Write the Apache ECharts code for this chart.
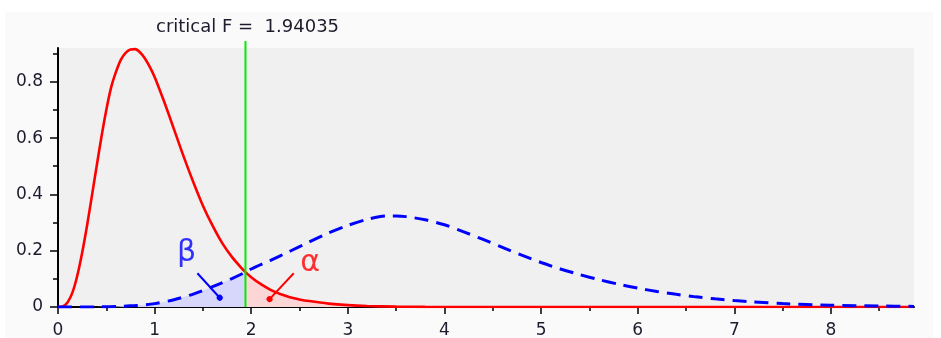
<!DOCTYPE html>
<html><head><meta charset="utf-8">
<script src="https://cdn.jsdelivr.net/npm/echarts@6/dist/echarts.min.js"></script>
<style>html,body{margin:0;padding:0;background:#fff}#c{width:941px;height:338px}</style>
</head><body><div id="c"></div>
<script>
// ---- data ----
const criticalF = 1.94035;
const xMax = 8.86;
const yMax = 0.92;
const xTicks = [0, 1, 2, 3, 4, 5, 6, 7, 8];
const xMinorTicks = [0.5, 1.5, 2.5, 3.5, 4.5, 5.5, 6.5, 7.5, 8.5];
const yTicks = [0, 0.2, 0.4, 0.6, 0.8];
const yMinorTicks = [0.1, 0.3, 0.5, 0.7, 0.9];

// central F density (red)
const redX = [0, 0.05, 0.1, 0.15, 0.2, 0.25, 0.3, 0.35, 0.4, 0.45, 0.5, 0.55, 0.6, 0.65, 0.7, 0.75, 0.8, 0.85, 0.9, 0.95, 1.0, 1.1, 1.2, 1.3, 1.4, 1.5, 1.6, 1.7, 1.8, 1.9, 1.94035, 2.0, 2.1, 2.2, 2.3, 2.4, 2.5, 2.6, 2.8, 3.0, 3.2, 3.5, 3.8, 4.2, 5, 6, 7, 8, 8.86];
const redY = [0, 0.002, 0.017, 0.052, 0.112, 0.193, 0.288, 0.393, 0.5, 0.605, 0.7, 0.78, 0.835, 0.878, 0.903, 0.915, 0.916, 0.904, 0.883, 0.853, 0.817, 0.728, 0.632, 0.535, 0.444, 0.36, 0.289, 0.227, 0.178, 0.138, 0.124, 0.106, 0.081, 0.061, 0.046, 0.035, 0.027, 0.021, 0.012, 0.0065, 0.0035, 0.0014, 0.0005, 0.0001, 0, 0, 0, 0, 0];

// noncentral F density (blue dashed)
const blueX = [0, 0.4, 0.6, 0.8, 1.0, 1.2, 1.4, 1.6, 1.8, 1.94035, 2.0, 2.2, 2.4, 2.6, 2.8, 3.0, 3.2, 3.4, 3.5, 3.6, 3.8, 4.0, 4.2, 4.4, 4.6, 4.8, 5.0, 5.2, 5.4, 5.6, 5.8, 6.0, 6.2, 6.4, 6.6, 6.8, 7.0, 7.2, 7.5, 8.0, 8.5, 8.86];
const blueY = [0, 0.0003, 0.0015, 0.005, 0.012, 0.026, 0.046, 0.072, 0.101, 0.124, 0.135, 0.166, 0.198, 0.231, 0.263, 0.290, 0.311, 0.323, 0.323, 0.321, 0.310, 0.292, 0.267, 0.240, 0.212, 0.184, 0.158, 0.135, 0.115, 0.097, 0.081, 0.067, 0.055, 0.045, 0.036, 0.029, 0.023, 0.018, 0.012, 0.0065, 0.0035, 0.0022];

// annotations (data coordinates)
const betaText = 'β';
const alphaText = 'α';
const betaLabelAt = [1.33, 0.19];
const alphaLabelAt = [2.61, 0.155];
const betaPointer = [[1.443, 0.12], [1.674, 0.033]];
const alphaPointer = [[2.44, 0.12], [2.19, 0.028]];
const greenTop = 0.945;

// ---- build ----
const pairs = (xs, ys) => xs.map((x, i) => [x, ys[i]]);
const redData = pairs(redX, redY);
const blueData = pairs(blueX, blueY);
const betaArea = blueData.filter(p => p[0] <= criticalF);
const alphaArea = redData.filter(p => p[0] >= criticalF);

const FONT = 'DejaVu Sans';
const labelColor = '#1c1c2c';

const chart = echarts.init(document.getElementById('c'), null, {renderer: 'canvas'});
chart.setOption({
  animation: false,
  backgroundColor: '#ffffff',
  graphic: [{type: 'rect', z: -10, silent: true,
    shape: {x: 5, y: 12, width: 928, height: 330}, style: {fill: '#fafafa'}}],
  title: {
    text: 'critical F =  ' + criticalF,
    left: 151, top: 13,
    textStyle: {fontFamily: FONT, fontSize: 18, fontWeight: 'normal', color: labelColor}
  },
  grid: {left: 58, right: 27, top: 48, bottom: 31, show: true, backgroundColor: '#f0f0f0', borderWidth: 0,
         containLabel: false, outerBoundsMode: 'none'},
  xAxis: [{
    type: 'value', min: 0, max: xMax,
    axisLine: {show: true, onZero: false, lineStyle: {color: '#000', width: 2}},
    axisTick: {show: true, customValues: xTicks, length: 7, lineStyle: {color: '#000', width: 1.5}},
    axisLabel: {customValues: xTicks, fontFamily: FONT, fontSize: 17, color: labelColor, margin: 15},
    splitLine: {show: false}
  }, {
    type: 'value', min: 0, max: xMax, position: 'bottom',
    axisLine: {show: false},
    axisTick: {show: true, customValues: xMinorTicks, length: 4, lineStyle: {color: '#000', width: 1.5}},
    axisLabel: {show: false},
    splitLine: {show: false}
  }],
  yAxis: [{
    type: 'value', min: 0, max: yMax,
    axisLine: {show: true, onZero: false, lineStyle: {color: '#000', width: 2}},
    axisTick: {show: true, customValues: yTicks, length: 8, lineStyle: {color: '#000', width: 1.5}},
    axisLabel: {customValues: yTicks, fontFamily: FONT, fontSize: 17, color: labelColor, margin: 15},
    splitLine: {show: false}
  }, {
    type: 'value', min: 0, max: yMax, position: 'left',
    axisLine: {show: false},
    axisTick: {show: true, customValues: yMinorTicks, length: 5, lineStyle: {color: '#000', width: 1.5}},
    axisLabel: {show: false},
    splitLine: {show: false}
  }],
  series: [
    {type: 'line', data: betaArea, smooth: 0.3, showSymbol: false, symbol: 'none', z: 1,
     lineStyle: {width: 0}, areaStyle: {color: '#d7d7fb', opacity: 1}},
    {type: 'line', data: alphaArea, smooth: 0.3, showSymbol: false, symbol: 'none', z: 1,
     lineStyle: {width: 0}, areaStyle: {color: '#fcd6d6', opacity: 1}},
    {type: 'line', data: redData, smooth: 0.3, symbol: 'none', z: 3,
     lineStyle: {color: '#ff0000', width: 2.6}},
    {type: 'line', data: blueData, smooth: 0.3, symbol: 'none', z: 4,
     lineStyle: {color: '#0000ff', width: 3, type: [14, 8]}},
    {type: 'line', data: [[criticalF, 0], [criticalF, greenTop]], symbol: 'none', clip: false, z: 5,
     lineStyle: {color: '#00ee00', width: 2}},
    {type: 'scatter', data: [betaLabelAt], symbolSize: 1, itemStyle: {color: 'rgba(0,0,0,0)'}, z: 6,
     label: {show: true, position: 'inside', formatter: betaText, fontFamily: FONT, fontSize: 30, color: '#0000ff'},
     markLine: {silent: true, symbol: ['none', 'circle'], symbolSize: 6, label: {show: false},
       lineStyle: {color: '#0000ff', width: 2, type: 'solid'},
       data: [[{coord: betaPointer[0]}, {coord: betaPointer[1]}]]}},
    {type: 'scatter', data: [alphaLabelAt], symbolSize: 1, itemStyle: {color: 'rgba(0,0,0,0)'}, z: 6,
     label: {show: true, position: 'inside', formatter: alphaText, fontFamily: FONT, fontSize: 30, color: '#ff0000'},
     markLine: {silent: true, symbol: ['none', 'circle'], symbolSize: 6, label: {show: false},
       lineStyle: {color: '#ff0000', width: 2, type: 'solid'},
       data: [[{coord: alphaPointer[0]}, {coord: alphaPointer[1]}]]}}
  ]
});
</script></body></html>
